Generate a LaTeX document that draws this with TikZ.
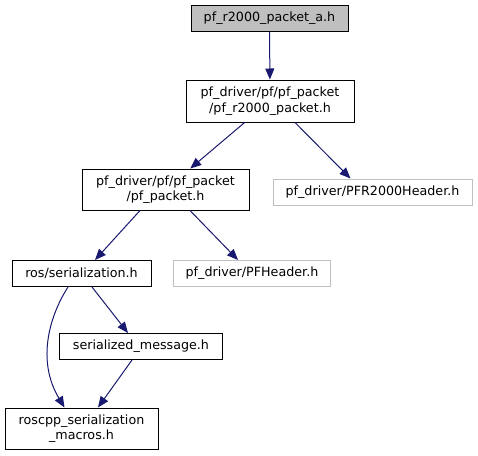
\documentclass[tikz,border=0pt]{standalone}
\usepackage{fontspec}
\setmainfont{DejaVu Sans}
\usetikzlibrary{arrows.meta}
\definecolor{edgeblue}{HTML}{191970}
\definecolor{boxgray}{HTML}{BFBFBF}
\begin{document}
\begin{tikzpicture}[x=1pt,y=1pt,
  box/.style={draw=black,line width=1pt,fill=white,inner sep=0pt,align=center,font=\fontsize{12.7}{15.5}\selectfont},
  missing/.style={box,draw=boxgray},
  edge/.style={draw=edgeblue,line width=1pt,-{Triangle[length=11pt,width=9pt]}}]
\useasboundingbox (0,0) rectangle (478,-455);
\node[box,fill=boxgray,minimum width=157pt,minimum height=26pt] (n1) at (269.5,-18) {pf\_r2000\_packet\_a.h};
\node[box,minimum width=168pt,minimum height=42pt] (n2) at (270,-101) {pf\_driver/pf/pf\_packet\\/pf\_r2000\_packet.h};
\node[box,minimum width=167pt,minimum height=41pt] (n3) at (165.5,-189.5) {pf\_driver/pf/pf\_packet\\/pf\_packet.h};
\node[missing,minimum width=199pt,minimum height=26pt] (n4) at (372.5,-192) {pf\_driver/PFR2000Header.h};
\node[box,minimum width=139pt,minimum height=26pt] (n5) at (81.5,-273.5) {ros/serialization.h};
\node[missing,minimum width=157pt,minimum height=26pt] (n6) at (252,-273.5) {pf\_driver/PFHeader.h};
\node[box,minimum width=163pt,minimum height=26pt] (n7) at (141,-346.5) {serialized\_message.h};
\node[box,minimum width=153pt,minimum height=41pt] (n8) at (81.5,-428.5) {roscpp\_serialization\\\_macros.h};
\draw[edge] (n1) -- (n2);
\draw[edge] (n2) -- (n3);
\draw[edge] ([xshift=25pt]n2.south) -- ([xshift=-22pt]n4.north);
\draw[edge] ([xshift=-25.5pt]n3.south) -- ([xshift=13.5pt]n5.north);
\draw[edge] ([xshift=24.5pt]n3.south) -- ([xshift=-14pt]n6.north);
\draw[edge] ([xshift=10.5pt]n5.south) -- ([xshift=-13pt]n7.north);
\draw[edge] ([xshift=-13.5pt]n5.south) .. controls (50,-315) and (36,-360) .. ([xshift=-17pt]n8.north);
\draw[edge] ([xshift=-9pt]n7.south) -- ([xshift=16.5pt]n8.north);
\end{tikzpicture}
\end{document}
